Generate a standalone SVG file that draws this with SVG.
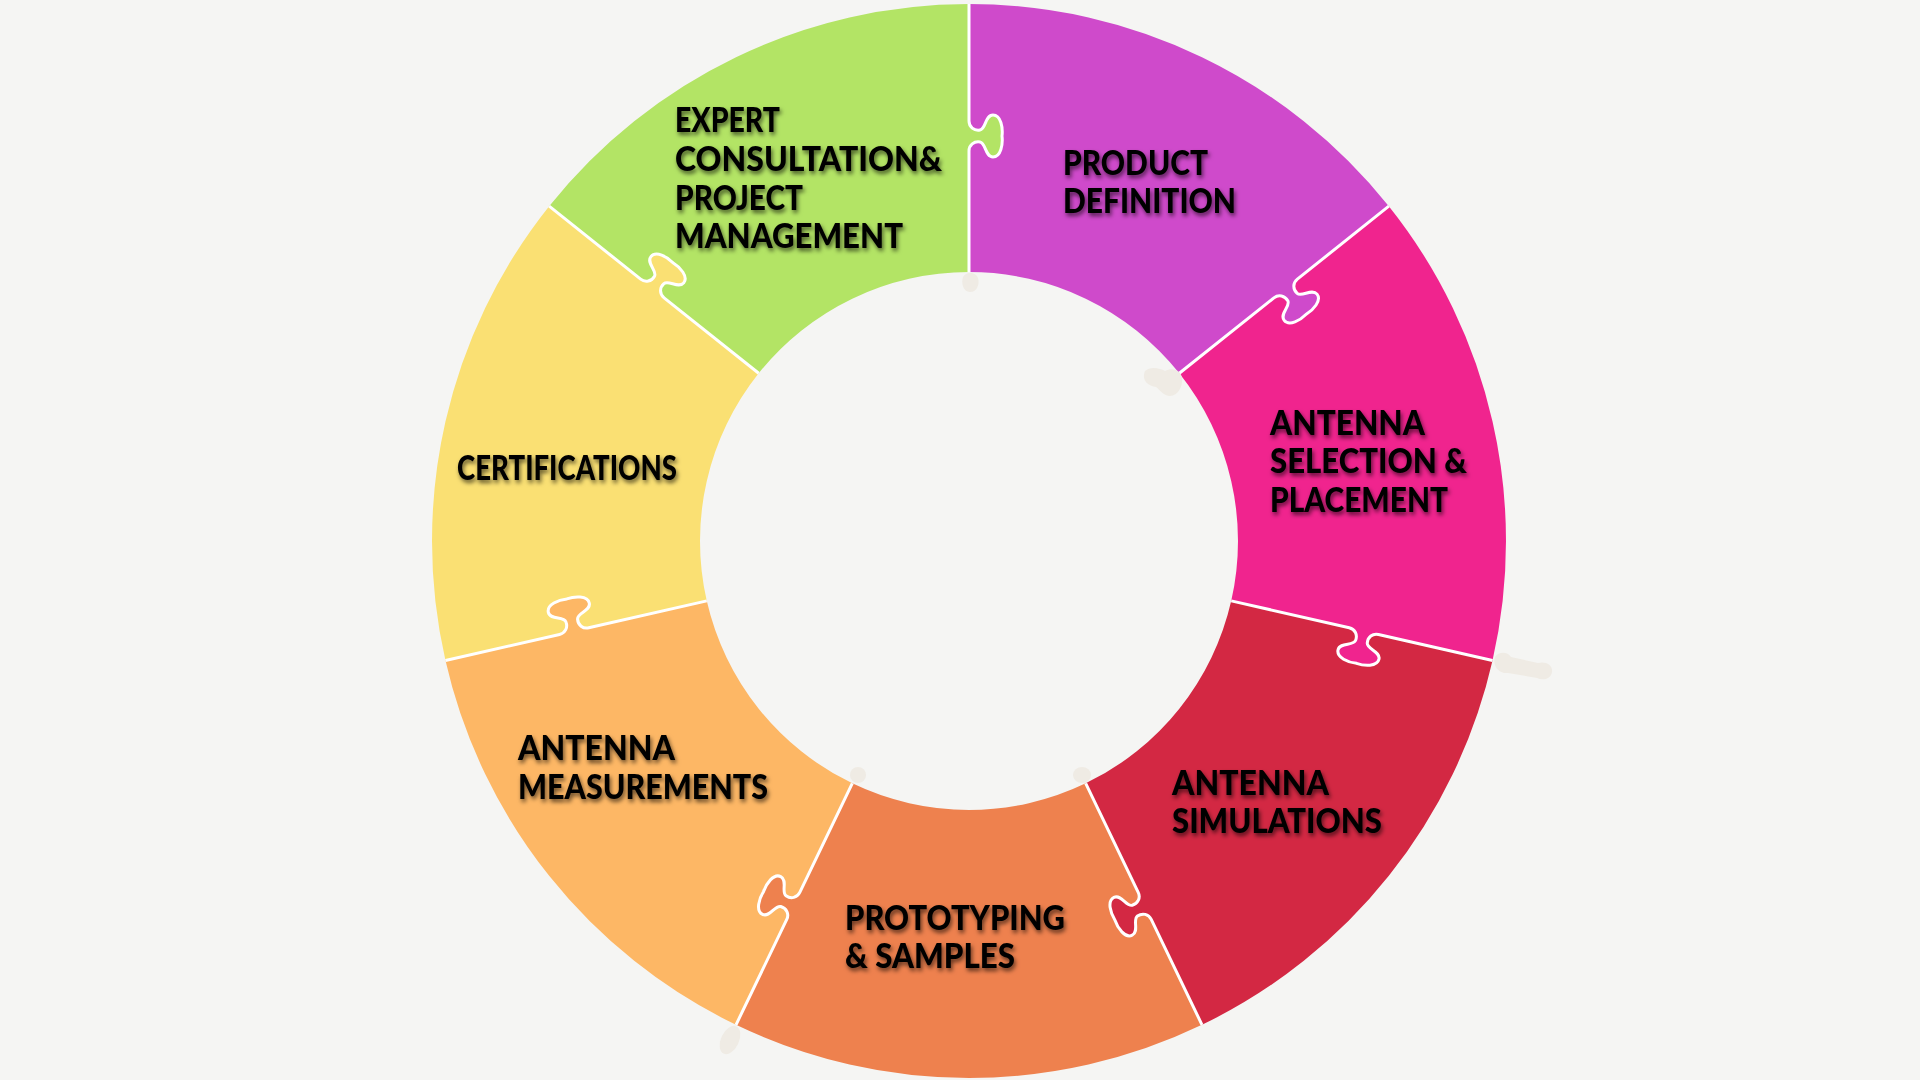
<svg xmlns="http://www.w3.org/2000/svg" xmlns:xlink="http://www.w3.org/1999/xlink" width="1920" height="1080" viewBox="0 0 1920 1080">
<defs>
<style>
.lbl{font-family:"Lato","Liberation Sans",sans-serif;font-weight:900;font-size:35px;fill:#000;filter:url(#shadow)}
.edge{fill:none;stroke:#ffffff;stroke-width:3}
.blob{fill:#EFEBE4}
</style>
<filter id="shadow" x="-10%" y="-30%" width="120%" height="160%">
<feDropShadow dx="1.5" dy="3" stdDeviation="2.2" flood-color="#000" flood-opacity="0.6"/>
</filter>
<path id="piece" d="M0,-537 A537,537 0 0 1 419.84,-334.81 L328.37,-261.87 C323.68,-258.12 323.67,-251.72 328.19,-247.65 C332.71,-243.59 343.04,-253.10 348.02,-246.85 C353.01,-240.59 344.10,-230.92 337.22,-226.71 C331.59,-220.95 320.17,-214.40 315.18,-220.66 C310.20,-226.91 321.77,-234.86 318.81,-240.17 C315.85,-245.49 309.60,-246.90 304.91,-243.16 L210.31,-167.72 A269,269 0 0 0 0,-269 L0,-390 C0,-396 5,-400 11,-399 C17,-398 16,-384 24,-384 C32,-384 34,-397 33,-405 C34,-413 32,-426 24,-426 C16,-426 17,-412 11,-411 C5,-410 0,-414 0,-420 Z"/>
<path id="edgepath" d="M0,-537 L0,-420 C0,-414 5,-410 11,-411 C17,-412 16,-426 24,-426 C32,-426 34,-413 33,-405 C34,-397 32,-384 24,-384 C16,-384 17,-398 11,-399 C5,-400 0,-396 0,-390 L0,-269"/>
</defs>
<rect width="1920" height="1080" fill="#F5F5F3"/>

<g id="node-product-definition">
<use xlink:href="#piece" href="#piece" transform="translate(969 541) rotate(0)" fill="#CF4ACB"/>
<text class="lbl" x="1063" y="175" textLength="145" lengthAdjust="spacingAndGlyphs">PRODUCT</text>
<text class="lbl" x="1063" y="213" textLength="173" lengthAdjust="spacingAndGlyphs">DEFINITION</text>
</g>
<g id="node-antenna-selection">
<use xlink:href="#piece" href="#piece" transform="translate(969 541) rotate(51.4286)" fill="#F0248E"/>
<text class="lbl" x="1270" y="435" textLength="155" lengthAdjust="spacingAndGlyphs">ANTENNA</text>
<text class="lbl" x="1270" y="473" textLength="197" lengthAdjust="spacingAndGlyphs">SELECTION &amp;</text>
<text class="lbl" x="1270" y="512" textLength="178" lengthAdjust="spacingAndGlyphs">PLACEMENT</text>
</g>
<g id="node-antenna-simulations">
<use xlink:href="#piece" href="#piece" transform="translate(969 541) rotate(102.8571)" fill="#D32843"/>
<text class="lbl" x="1172" y="795" textLength="157" lengthAdjust="spacingAndGlyphs">ANTENNA</text>
<text class="lbl" x="1172" y="833" textLength="210" lengthAdjust="spacingAndGlyphs">SIMULATIONS</text>
</g>
<g id="node-prototyping">
<use xlink:href="#piece" href="#piece" transform="translate(969 541) rotate(154.2857)" fill="#EE814E"/>
<text class="lbl" x="845" y="930" textLength="220" lengthAdjust="spacingAndGlyphs">PROTOTYPING</text>
<text class="lbl" x="845" y="968" textLength="170" lengthAdjust="spacingAndGlyphs">&amp; SAMPLES</text>
</g>
<g id="node-antenna-measurements">
<use xlink:href="#piece" href="#piece" transform="translate(969 541) rotate(205.7143)" fill="#FDB765"/>
<text class="lbl" x="518" y="760" textLength="157" lengthAdjust="spacingAndGlyphs">ANTENNA</text>
<text class="lbl" x="518" y="799" textLength="250" lengthAdjust="spacingAndGlyphs">MEASUREMENTS</text>
</g>
<g id="node-certifications">
<use xlink:href="#piece" href="#piece" transform="translate(969 541) rotate(257.1429)" fill="#FAE073"/>
<text class="lbl" x="457" y="480" textLength="220" lengthAdjust="spacingAndGlyphs">CERTIFICATIONS</text>
</g>
<g id="node-expert-consultation">
<use xlink:href="#piece" href="#piece" transform="translate(969 541) rotate(308.5714)" fill="#B3E465"/>
<text class="lbl" x="675" y="132" textLength="105" lengthAdjust="spacingAndGlyphs">EXPERT</text>
<text class="lbl" x="675" y="171" textLength="267" lengthAdjust="spacingAndGlyphs">CONSULTATION&amp;</text>
<text class="lbl" x="675" y="210" textLength="128" lengthAdjust="spacingAndGlyphs">PROJECT</text>
<text class="lbl" x="675" y="248" textLength="228" lengthAdjust="spacingAndGlyphs">MANAGEMENT</text>
</g>

<g id="connectors">
<use xlink:href="#edgepath" href="#edgepath" class="edge" transform="translate(969 541) rotate(0)"/>
<use xlink:href="#edgepath" href="#edgepath" class="edge" transform="translate(969 541) rotate(51.4286)"/>
<use xlink:href="#edgepath" href="#edgepath" class="edge" transform="translate(969 541) rotate(102.8571)"/>
<use xlink:href="#edgepath" href="#edgepath" class="edge" transform="translate(969 541) rotate(154.2857)"/>
<use xlink:href="#edgepath" href="#edgepath" class="edge" transform="translate(969 541) rotate(205.7143)"/>
<use xlink:href="#edgepath" href="#edgepath" class="edge" transform="translate(969 541) rotate(257.1429)"/>
<use xlink:href="#edgepath" href="#edgepath" class="edge" transform="translate(969 541) rotate(308.5714)"/>
</g>

<g id="marks">
<path class="blob" d="M963,277 C966,271 976,272 978,278 C980,284 977,292 970,292 C963,292 961,283 963,277 Z"/>
<path class="blob" d="M1145,371 C1150,366 1160,368 1165,371 C1172,367 1181,370 1182,378 C1183,386 1178,396 1170,396 C1164,396 1160,390 1156,387 C1149,386 1141,381 1145,371 Z"/>
<path class="blob" d="M1495,657 C1499,651 1508,652 1511,657 L1538,663 C1546,661 1553,665 1552,672 C1551,679 1543,681 1537,678 L1508,673 C1500,674 1492,667 1495,657 Z"/>
<ellipse class="blob" cx="1082" cy="775" rx="9" ry="8"/>
<ellipse class="blob" cx="858" cy="775" rx="8" ry="8"/>
<ellipse class="blob" cx="730" cy="1040" rx="9" ry="15" transform="rotate(25 730 1040)"/>
</g>
</svg>
